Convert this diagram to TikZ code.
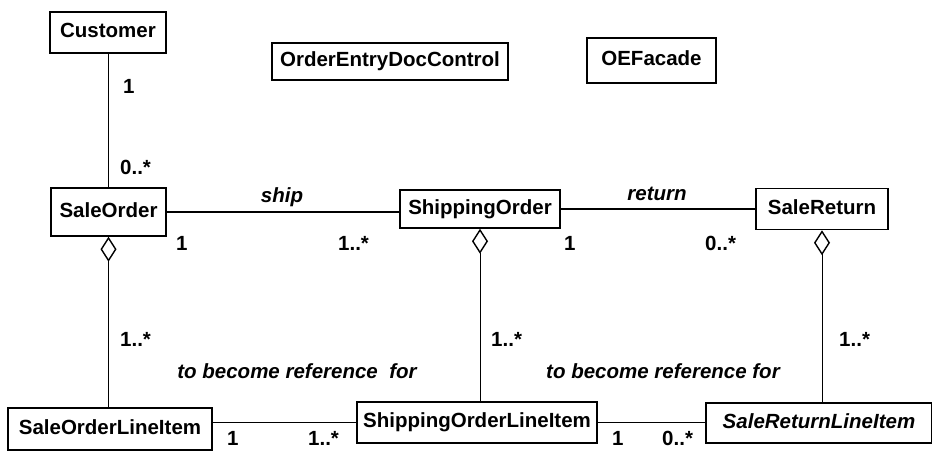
\documentclass[tikz,border=0pt]{standalone}
\usepackage{fontspec}
\setmainfont{Liberation Sans}
\usetikzlibrary{arrows.meta,positioning}
\tikzset{
  cls/.style={draw,line width=1.5pt,inner sep=0pt,text height=15pt,text depth=4.5pt,
    font=\bfseries\fontsize{20.5}{24}\selectfont},
  mult/.style={inner sep=0pt,anchor=west,font=\bfseries\fontsize{20.5}{24}\selectfont},
  role/.style={inner sep=0pt,font=\bfseries\itshape\fontsize{20.5}{24}\selectfont},
  aggr/.style={line width=1pt,{Diamond[open,length=25pt,width=16pt,line width=1.4pt]}-},
  assoc/.style={line width=1.6pt}
}
\begin{document}
\begin{tikzpicture}[x=1pt,y=-1pt]
  \useasboundingbox (0,0) rectangle (932,451);
  \node[cls,minimum width=116pt,minimum height=41pt] (cust) at (108,32.5) {Customer};
  \node[cls,minimum width=236pt,minimum height=37pt] (ctrl) at (390,61.5) {OrderEntryDocControl};
  \node[cls,minimum width=129pt,minimum height=45pt] (facade) at (651.5,60.5) {OEFacade};
  \node[cls,minimum width=115pt,minimum height=48pt] (so) at (108.5,212) {SaleOrder};
  \node[cls,minimum width=160pt,minimum height=38pt] (shp) at (480,209) {ShippingOrder};
  \node[cls,minimum width=132pt,minimum height=41pt] (sr) at (822,209) {SaleReturn};
  \node[cls,minimum width=204pt,minimum height=42pt] (soli) at (110,429) {SaleOrderLineItem};
  \node[cls,minimum width=240pt,minimum height=41pt] (shli) at (477,422.5) {ShippingOrderLineItem};
  \node[cls,minimum width=226pt,minimum height=40pt,font=\bfseries\itshape\fontsize{20.5}{24}\selectfont] (srli) at (819,423) {SaleReturnLineItem};
  \draw[line width=1pt] (cust.south) -- (cust.south |- so.north);
  \draw[assoc] (so.east) -- (so.east -| shp.west);
  \draw[assoc] (shp.east) -- (shp.east -| sr.west);
  \draw[aggr] (so.south) -- (so.south |- soli.north);
  \draw[aggr] (shp.south) -- (shp.south |- shli.north);
  \draw[aggr] (sr.south) -- (sr.south |- srli.north);
  \draw[assoc] (shli.west -| soli.east) -- (shli.west);
  \draw[assoc] (shli.east) -- (shli.east -| srli.west);
  \node[mult] (m1) at (123,86) {1};
  \node[mult] (m2) at (120,167) {0..*};
  \node[role] (ship) at (282,197) {ship};
  \node[mult] (m3) at (176,243) {1};
  \node[mult] (m4) at (338,243) {1..*};
  \node[role] (ret) at (657,194) {return};
  \node[mult] (m5) at (564,243) {1};
  \node[mult] (m6) at (705,243) {0..*};
  \node[mult] (m7) at (120,339) {1..*};
  \node[mult] (m8) at (491,339) {1..*};
  \node[mult] (m9) at (839,339) {1..*};
  \node[role] (ref1) at (297,371) {to become reference\ \ for};
  \node[role] (ref2) at (663,371) {to become reference for};
  \node[mult] (m10) at (227,438) {1};
  \node[mult] (m11) at (308,438) {1..*};
  \node[mult] (m12) at (612,438) {1};
  \node[mult] (m13) at (662,438) {0..*};
\end{tikzpicture}
\end{document}
